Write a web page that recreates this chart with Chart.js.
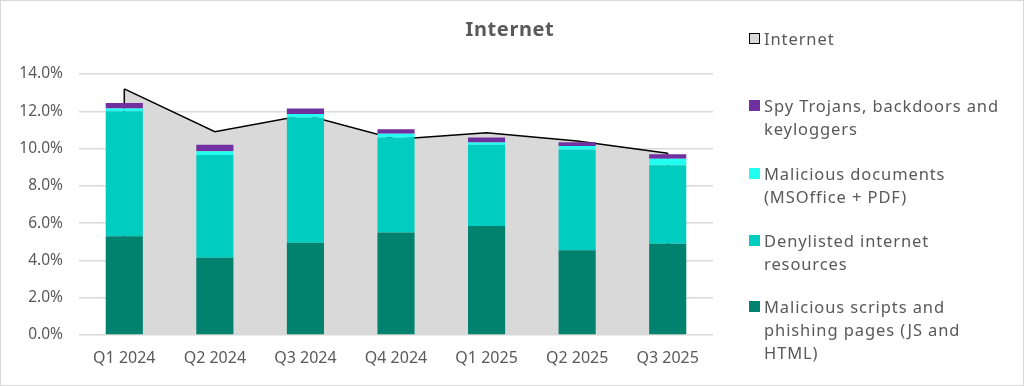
<!DOCTYPE html>
<html>
<head>
<meta charset="utf-8">
<script src="https://cdn.jsdelivr.net/npm/chart.js@4"></script>
<style>
  html, body { margin: 0; padding: 0; background: #fff; }
  #wrap { position: relative; width: 1024px; height: 386px; font-family: "Noto Sans", sans-serif; }
  #frame { position: absolute; left: 0; top: 0; width: 1022px; height: 384px; border: 1px solid #d9d9d9; pointer-events: none; }
  #title { position: absolute; left: 410px; width: 200px; top: 15px; text-align: center; font-size: 20px; font-weight: bold; color: #595959; letter-spacing: 0.6px; }
  .item { position: absolute; left: 749px; color: #595959; font-size: 16.5px; line-height: 23px; white-space: nowrap; letter-spacing: 0.9px; }
  .item .mark { position: absolute; left: 0; top: 6px; width: 11px; height: 11px; box-sizing: border-box; }
  .item .txt { margin-left: 15px; }
</style>
</head>
<body>
<div id="wrap">
  <canvas id="chart" width="1024" height="386"></canvas>
  <div id="title">Internet</div>
  <div id="legend"></div>
  <div id="frame"></div>
</div>
<script>
// categories
const quarters = ["Q1 2024", "Q2 2024", "Q3 2024", "Q4 2024", "Q1 2025", "Q2 2025", "Q3 2025"];

// total share for the Internet vector (area)
const internetTotal = [13.2, 10.9, 11.8, 10.5, 10.85, 10.4, 9.75];

// stacked components, bottom to top
const maliciousScripts = [5.3, 4.15, 4.95, 5.5, 5.85, 4.55, 4.9];
const denylisted = [6.7, 5.5, 6.7, 5.1, 4.35, 5.4, 4.2];
const maliciousDocs = [0.15, 0.2, 0.2, 0.2, 0.13, 0.19, 0.35];
const spyTrojans = [0.3, 0.35, 0.3, 0.23, 0.27, 0.2, 0.24];

// y axis tick labels
const yTicks = ["0.0%", "2.0%", "4.0%", "6.0%", "8.0%", "10.0%", "12.0%", "14.0%"];

// legend text, split in lines like the original
const legendLines = {
  internet: ["Internet"],
  spy: ["Spy Trojans, backdoors and", "keyloggers"],
  docs: ["Malicious documents", "(MSOffice + PDF)"],
  deny: ["Denylisted internet", "resources"],
  scripts: ["Malicious scripts and", "phishing pages (JS and", "HTML)"]
};

const colors = {
  internet: "#d9d9d9",
  spy: "#7030a0",
  docs: "#22fff0",
  deny: "#00ccbf",
  scripts: "#00826e"
};

const datasets = [
  {
    type: "bar", key: "scripts", label: legendLines.scripts.join(" "),
    data: maliciousScripts, backgroundColor: colors.scripts, stack: "threats", order: 1
  },
  {
    type: "bar", key: "deny", label: legendLines.deny.join(" "),
    data: denylisted, backgroundColor: colors.deny, stack: "threats", order: 1
  },
  {
    type: "bar", key: "docs", label: legendLines.docs.join(" "),
    data: maliciousDocs, backgroundColor: colors.docs, stack: "threats", order: 1
  },
  {
    type: "bar", key: "spy", label: legendLines.spy.join(" "),
    data: spyTrojans, backgroundColor: colors.spy, stack: "threats", order: 1
  },
  {
    type: "line", key: "internet", label: "Internet",
    data: internetTotal, backgroundColor: colors.internet, borderColor: "#000",
    borderWidth: 1.5, pointRadius: 0, fill: "origin", tension: 0,
    stack: "internet", order: 10
  }
];

// closes the area outline at both ends, like the spreadsheet original
const areaEdges = {
  id: "areaEdges",
  afterDatasetDraw(chart, args) {
    const ds = chart.data.datasets[args.index];
    if (ds.key !== "internet") return;
    const pts = args.meta.data;
    const y0 = chart.scales.y.getPixelForValue(0);
    const c = chart.ctx;
    c.save();
    c.strokeStyle = "#000";
    c.lineWidth = 1.5;
    [pts[0], pts[pts.length - 1]].forEach((p) => {
      c.beginPath();
      c.moveTo(p.x, y0 - 4);
      c.lineTo(p.x, p.y);
      c.stroke();
    });
    c.restore();
  }
};

const ctx = document.getElementById("chart").getContext("2d");
const chart = new Chart(ctx, {
  data: { labels: quarters, datasets: datasets },
  plugins: [areaEdges],
  options: {
    responsive: false,
    animation: false,
    layout: { padding: { left: 0, right: 311, top: 74, bottom: 0 } },
    datasets: {
      bar: { categoryPercentage: 1, barPercentage: 0.41, borderWidth: 0 }
    },
    plugins: {
      legend: { display: false },
      title: { display: false },
      tooltip: { enabled: false }
    },
    scales: {
      x: {
        stacked: true,
        grid: { display: false },
        border: { display: false },
        ticks: { color: "#595959", font: { family: "Noto Sans", size: 16 }, padding: 6 },
        afterFit: function (scale) { scale.height = 51; }
      },
      y: {
        stacked: true,
        min: 0,
        max: 14,
        border: { display: false },
        grid: { color: "#d9d9d9", lineWidth: 1.5, drawTicks: false },
        ticks: {
          stepSize: 2,
          padding: 16,
          color: "#595959",
          font: { family: "Noto Sans", size: 15.5 },
          callback: function (value) {
            return yTicks[Math.round(value / 2)];
          }
        },
        afterFit: function (scale) { scale.width = 79; }
      }
    }
  }
});

// html legend built from the chart's datasets
const legendTops = { internet: 27, spy: 94, docs: 162, deny: 229, scripts: 295 };
const legendOrder = ["internet", "spy", "docs", "deny", "scripts"];
const legendEl = document.getElementById("legend");
legendOrder.forEach((key) => {
  const ds = chart.data.datasets.find((d) => d.key === key);
  const item = document.createElement("div");
  item.className = "item";
  item.style.top = legendTops[key] + "px";
  const mark = document.createElement("div");
  mark.className = "mark";
  mark.style.background = ds.backgroundColor;
  if (key === "internet") mark.style.border = "1.5px solid #000";
  const txt = document.createElement("div");
  txt.className = "txt";
  txt.innerHTML = legendLines[key].join("<br>");
  item.appendChild(mark);
  item.appendChild(txt);
  legendEl.appendChild(item);
});
</script>
</body>
</html>
